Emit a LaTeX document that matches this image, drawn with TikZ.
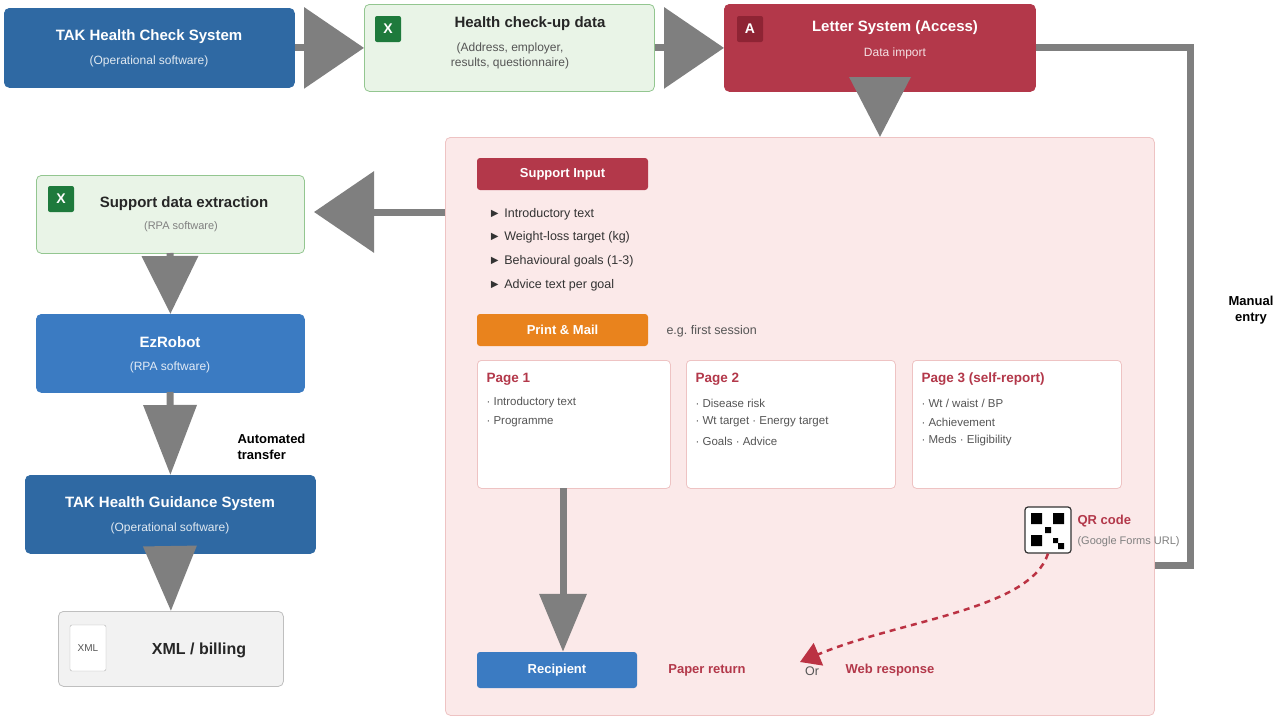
\documentclass[tikz,border=0pt]{standalone}
\usepackage{fontspec}
\setmainfont{Liberation Sans}
\usetikzlibrary{arrows.meta}
\definecolor{dblue}{HTML}{2F69A3}
\definecolor{mblue}{HTML}{3B7BC2}
\definecolor{lgreen}{HTML}{E9F4E7}
\definecolor{bgreen}{HTML}{93C690}
\definecolor{xgreen}{HTML}{1E7A3C}
\definecolor{lred}{HTML}{B3384A}
\definecolor{dred}{HTML}{8E2434}
\definecolor{pink}{HTML}{FBE9E9}
\definecolor{bpink}{HTML}{EEC3C3}
\definecolor{orng}{HTML}{E9831D}
\definecolor{agray}{HTML}{7F7F7F}
\definecolor{tgray}{HTML}{555555}
\frenchspacing
\begin{document}
\begin{tikzpicture}[x=1pt,y=-1pt,
 box/.style={rounded corners=5pt,line width=0.8pt},
 title/.style={font=\fontsize{15}{18}\selectfont\bfseries},
 sub/.style={font=\fontsize{12}{15}\selectfont},
 bigarrow/.style={draw=agray,line width=7pt,-{Triangle[length=60pt,width=80pt]}},
 tag/.style={rounded corners=3pt,text=white,font=\fontsize{13}{16}\selectfont\bfseries,minimum width=171pt,minimum height=32pt},
 page/.style={draw=bpink,fill=white,rounded corners=4pt,line width=0.8pt},
 ptitle/.style={font=\fontsize{13.5}{16}\selectfont\bfseries,text=lred,anchor=west},
 pitem/.style={font=\fontsize{11.5}{14}\selectfont,text=tgray,anchor=west},
 bullet/.style={font=\fontsize{12.5}{15}\selectfont,text=black!80,anchor=west},
 icon/.style={rounded corners=2pt,text=white,font=\fontsize{14}{16}\selectfont\bfseries,minimum width=26pt,minimum height=26pt}]
\useasboundingbox (0,0) rectangle (1280,720);
% panel
\node[draw=bpink,fill=pink,box,minimum width=709pt,minimum height=578pt,anchor=north west] (panel) at (445,137) {};
% top row
\node[box,fill=dblue,draw=dblue,minimum width=290pt,minimum height=79pt,anchor=north west] (tak) at (4,8) {};
\node[title,text=white] at (149,37) {TAK Health Check System};
\node[sub,text=white!85!dblue] at (149,61) {(Operational software)};
\node[box,fill=lgreen,draw=bgreen,minimum width=290pt,minimum height=87pt,anchor=north west] (hc) at (364,4) {};
\node[icon,fill=xgreen] at (388,29) {X};
\node[title,text=black!85] at (530,24) {Health check-up data};
\node[sub,text=tgray,align=center] at (510,56) {(Address, employer,\\results, questionnaire)};
\node[box,fill=lred,draw=lred,minimum width=311pt,minimum height=87pt,anchor=north west] (let) at (724,4) {};
\node[icon,fill=dred] at (750,29) {A};
\node[title,text=white] at (895,28) {Letter System (Access)};
\node[sub,text=white!85!lred] at (895,53) {Data import};
% left column
\node[box,fill=lgreen,draw=bgreen,minimum width=268pt,minimum height=78pt,anchor=north west] (sde) at (36,175) {};
\node[icon,fill=xgreen] at (61,199) {X};
\node[title,text=black!85] at (184,204) {Support data extraction};
\node[sub,text=gray,font=\fontsize{11}{13}\selectfont] at (181,227) {(RPA software)};
\node[box,fill=mblue,draw=mblue,minimum width=268pt,minimum height=78pt,anchor=north west] (ez) at (36,314) {};
\node[title,text=white] at (170,342) {EzRobot};
\node[sub,text=white!85!mblue] at (170,367) {(RPA software)};
\node[box,fill=dblue,draw=dblue,minimum width=290pt,minimum height=78pt,anchor=north west] (gs) at (25,475) {};
\node[title,text=white] at (170,504) {TAK Health Guidance System};
\node[sub,text=white!85!dblue] at (170,528) {(Operational software)};
\node[box,fill=gray!10,draw=gray!50,minimum width=225pt,minimum height=75pt,anchor=north west] (xml) at (58,611) {};
\node[draw=gray!60,fill=white,rounded corners=2pt,minimum width=36pt,minimum height=46pt,font=\fontsize{10}{12}\selectfont,text=tgray] at (88,648) {XML};
\node[title,text=black!85,font=\fontsize{16}{18}\selectfont\bfseries] at (199,650) {XML / billing};
\node[font=\fontsize{13}{16}\selectfont\bfseries,align=left,anchor=west] at (234,447) {Automated\\transfer};
\node[font=\fontsize{13}{16}\selectfont\bfseries,align=center] at (1251,310) {Manual\\entry};
% panel contents
\node[tag,fill=lred] (si) at (562.5,174) {Support Input};
\node[bullet] at (485,214) {► Introductory text};
\node[bullet] at (485,237) {► Weight-loss target (kg)};
\node[bullet] at (485,261) {► Behavioural goals (1-3)};
\node[bullet] at (485,285) {► Advice text per goal};
\node[tag,fill=orng] (pm) at (562.5,330) {Print \& Mail};
\node[pitem,font=\fontsize{12.5}{15}\selectfont] at (663,331) {e.g. first session};
\node[page,minimum width=193pt,minimum height=128pt,anchor=north west] (p1) at (477,360) {};
\node[ptitle] at (483,379) {Page 1};
\node[pitem] at (483,403) {· Introductory text};
\node[pitem] at (483,422) {· Programme};
\node[page,minimum width=209pt,minimum height=128pt,anchor=north west] (p2) at (686,360) {};
\node[ptitle] at (692,379) {Page 2};
\node[pitem] at (692,403) {· Disease risk};
\node[pitem] at (692,422) {· Wt target · Energy target};
\node[pitem] at (692,441) {· Goals · Advice};
\node[page,minimum width=209pt,minimum height=128pt,anchor=north west] (p3) at (912,360) {};
\node[ptitle] at (918,379) {Page 3 (self-report)};
\node[pitem] at (918,403) {· Wt / waist / BP};
\node[pitem] at (918,422) {· Achievement};
\node[pitem] at (918,441) {· Meds · Eligibility};
% QR
\node[draw=black!80,fill=white,rounded corners=3pt,line width=1.2pt,minimum width=46pt,minimum height=46pt] (qr) at (1048,530) {};
\fill (1031,513) rectangle (1042,524) (1053,513) rectangle (1064,524) (1031,535) rectangle (1042,546) (1045,527) rectangle (1051,533) (1053,538) rectangle (1058,543) (1058,543) rectangle (1064,549);
\node[font=\fontsize{13}{16}\selectfont\bfseries,text=lred,anchor=west] at (1074,521) {QR code};
\node[font=\fontsize{11}{13}\selectfont,text=gray,anchor=west] at (1074,542) {(Google Forms URL)};
\node[tag,fill=mblue,minimum width=160pt,minimum height=36pt] (rec) at (557,670) {Recipient};
\node[font=\fontsize{13}{16}\selectfont\bfseries,text=lred] at (707,670) {Paper return};
\node[font=\fontsize{12.5}{15}\selectfont,text=tgray] (or) at (812,671) {Or};
\node[font=\fontsize{13}{16}\selectfont\bfseries,text=lred] at (890,670) {Web response};
% arrows
\draw[bigarrow] (tak.east) -- (hc.west);
\draw[bigarrow] (hc.east) -- (let.west);
\draw[bigarrow,-{Triangle[length=60pt,width=60pt]}] (let.south -| 880,0) -- (880,137);
\draw[bigarrow] (panel.west |- 0,212) -- (314,212);
\draw[bigarrow,-{Triangle[length=58pt,width=55pt]}] (170,253) -- (ez.north);
\draw[bigarrow,-{Triangle[length=70pt,width=52pt]}] (170,392) -- (gs.north);
\draw[bigarrow,-{Triangle[length=65pt,width=52pt]}] (170,553) -- (xml.north);
\draw[bigarrow,-{Triangle[length=58pt,width=46pt]}] (563,488) -- (rec.north -| 563,0);
\draw[draw=agray,line width=7pt] (let.east |- 0,47) -- (1190,47) -- (1190,565) -- (panel.east |- 0,565);
\draw[lred!90!red,line width=2.5pt,dash pattern=on 6pt off 5pt,-{Triangle[length=20pt,width=24pt]}] (qr.south) .. controls (1030,610) and (900,620) .. (800,662);
\end{tikzpicture}
\end{document}
